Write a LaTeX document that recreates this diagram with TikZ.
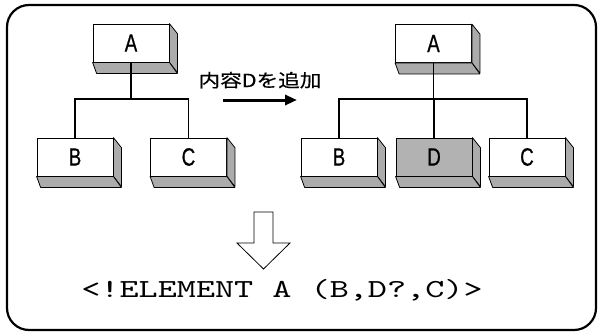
\documentclass[tikz,border=0pt]{standalone}
\usepackage{fontspec}
\usetikzlibrary{arrows.meta,calc}
\newfontfamily\labelfont[FakeStretch=0.75,FakeBold=0.6]{Liberation Sans}
\newfontfamily\cjkfont[FakeStretch=1.2,FakeBold=0.4]{Noto Sans CJK JP}
\newfontfamily\codefont[FakeStretch=1.4]{lmmono10-regular.otf}
\tikzset{
  box/.style={draw, fill=white, minimum width=76pt, minimum height=38pt, inner sep=0pt,
    line width=0.8pt, font=\labelfont\fontsize{25}{25}\selectfont},
  shadedbox/.style={box, fill=black!30},
  face/.style={draw, fill=black!33, line width=0.8pt, line join=round},
  conn/.style={line width=1.4pt},
}
\newcommand{\depthfaces}[1]{%
  \path[face] (#1.north east) -- ++(8,10) -- ++(0,39) -- (#1.south east) -- cycle;
  \path[face] (#1.south west) -- (#1.south east) -- ++(8,11) -- ($(#1.south west)+(4,11)$) -- cycle;
}
\begin{document}
\begin{tikzpicture}[x=1pt,y=-1pt]
\useasboundingbox (0,0) rectangle (599,332);
\draw[line width=2.2pt, rounded corners=22pt] (7,5) rectangle (596,330);

% left tree
\node[box] (A1) at (131,43) {A};
\node[box] (B1) at (75,157) {B};
\node[box] (C1) at (188.5,157) {C};
\foreach \n in {A1,B1,C1} {\depthfaces{\n}}
\coordinate (j1) at (131,99);
\draw[conn] (A1.south) -- (j1);
\draw[conn] (B1.north) -- (B1.north |- j1) -- (C1.north |- j1) -- (C1.north);

% arrow with label
\node[font=\cjkfont\fontsize{18}{18}\selectfont, anchor=base] (lbl) at (260,87) {内容Dを追加};
\coordinate (ar1) at (223,100);
\coordinate (ar2) at (297,100);
\draw[line width=3pt, -{Triangle[length=12pt,width=10pt]}] (ar1) -- (ar2);

% right tree
\node[box] (A2) at (433.5,43.5) {A};
\node[box] (B2) at (339,157) {B};
\node[shadedbox] (D2) at (434,157) {D};
\node[box] (C2) at (527,157) {C};
\foreach \n in {A2,B2,D2,C2} {\depthfaces{\n}}
\coordinate (j2) at (433.5,99);
\draw[conn] (A2.south) -- (j2);
\draw[conn] (B2.north) -- (B2.north |- j2) -- (C2.north |- j2) -- (C2.north);
\draw[conn] (D2.north) -- (D2.north |- j2);

% hollow down arrow
\draw[line width=0.8pt, fill=white, line join=miter]
  (254,212) -- (273,212) -- (273,243) -- (290,243) -- (263.5,269) -- (237,243) -- (254,243) -- cycle;

% code line
\node[font=\codefont\fontsize{26}{26}\selectfont, anchor=base] (code) at (282,297) {<!ELEMENT A (B,D?,C)>};
\end{tikzpicture}
\end{document}
